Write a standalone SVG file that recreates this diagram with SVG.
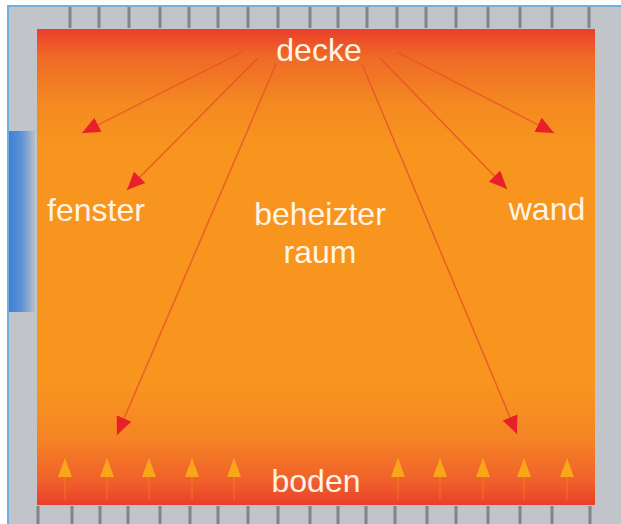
<svg xmlns="http://www.w3.org/2000/svg" width="621" height="524" viewBox="0 0 621 524">
<defs>
<linearGradient id="room" x1="0" y1="29" x2="0" y2="505" gradientUnits="userSpaceOnUse">
<stop offset="0" stop-color="#e93f2b"/>
<stop offset="0.06" stop-color="#ef6a26"/>
<stop offset="0.16" stop-color="#f48a21"/>
<stop offset="0.25" stop-color="#f7951e"/>
<stop offset="0.75" stop-color="#f7951e"/>
<stop offset="0.86" stop-color="#f58425"/>
<stop offset="0.95" stop-color="#f0602a"/>
<stop offset="1" stop-color="#ea3f2c"/>
</linearGradient>
<linearGradient id="win" x1="0" y1="0" x2="1" y2="0">
<stop offset="0" stop-color="#3f7fd4"/>
<stop offset="0.5" stop-color="#5f93d4"/>
<stop offset="1" stop-color="#b7bfc9"/>
</linearGradient>
<marker id="ah" markerUnits="userSpaceOnUse" markerWidth="20" markerHeight="16" viewBox="0 0 20 16" refX="18" refY="8" orient="auto">
<path d="M0,0 L18,8 L0,16 Z" fill="#e8202a"/>
</marker>
<marker id="up" markerUnits="userSpaceOnUse" markerWidth="20" markerHeight="14" viewBox="0 0 20 14" refX="19" refY="7" orient="auto">
<path d="M0,0 L19,7 L0,14 Z" fill="#f9a61b"/>
</marker>
</defs>
<style>
.tile{fill:#c1c4c8}
.div{stroke:#80858b;stroke-width:3}
.lbl{font-family:"Liberation Sans",Arial,sans-serif;font-size:32px;fill:#fff4e6;text-anchor:middle}
.ray{stroke:#e8502a;stroke-width:1.4;fill:none;stroke-opacity:0.85}
.rise{stroke:#f7a41e;stroke-width:1.2;stroke-opacity:0.35}
</style>
<rect x="0" y="0" width="621" height="524" fill="#ffffff"/>
<g id="frame">
<rect x="7" y="5" width="614" height="519" fill="#6fb0e2"/>
<rect x="9" y="7" width="612" height="517" class="tile"/>
<g id="top-dividers">
<line class="div" x1="70" y1="7" x2="70" y2="28"/>
<line class="div" x1="99" y1="7" x2="99" y2="28"/>
<line class="div" x1="129" y1="7" x2="129" y2="28"/>
<line class="div" x1="160" y1="7" x2="160" y2="28"/>
<line class="div" x1="189" y1="7" x2="189" y2="28"/>
<line class="div" x1="218" y1="7" x2="218" y2="28"/>
<line class="div" x1="248" y1="7" x2="248" y2="28"/>
<line class="div" x1="278" y1="7" x2="278" y2="28"/>
<line class="div" x1="310" y1="7" x2="310" y2="28"/>
<line class="div" x1="338" y1="7" x2="338" y2="28"/>
<line class="div" x1="367" y1="7" x2="367" y2="28"/>
<line class="div" x1="397" y1="7" x2="397" y2="28"/>
<line class="div" x1="426" y1="7" x2="426" y2="28"/>
<line class="div" x1="456" y1="7" x2="456" y2="28"/>
<line class="div" x1="488" y1="7" x2="488" y2="28"/>
<line class="div" x1="520" y1="7" x2="520" y2="28"/>
<line class="div" x1="552" y1="7" x2="552" y2="28"/>
<line class="div" x1="589" y1="7" x2="589" y2="28"/>
</g>
<g id="bottom-dividers">
<line class="div" x1="38" y1="506" x2="38" y2="524"/>
<line class="div" x1="72" y1="506" x2="72" y2="524"/>
<line class="div" x1="100" y1="506" x2="100" y2="524"/>
<line class="div" x1="128" y1="506" x2="128" y2="524"/>
<line class="div" x1="160" y1="506" x2="160" y2="524"/>
<line class="div" x1="190" y1="506" x2="190" y2="524"/>
<line class="div" x1="218" y1="506" x2="218" y2="524"/>
<line class="div" x1="248" y1="506" x2="248" y2="524"/>
<line class="div" x1="278" y1="506" x2="278" y2="524"/>
<line class="div" x1="310" y1="506" x2="310" y2="524"/>
<line class="div" x1="338" y1="506" x2="338" y2="524"/>
<line class="div" x1="366" y1="506" x2="366" y2="524"/>
<line class="div" x1="395" y1="506" x2="395" y2="524"/>
<line class="div" x1="427" y1="506" x2="427" y2="524"/>
<line class="div" x1="456" y1="506" x2="456" y2="524"/>
<line class="div" x1="488" y1="506" x2="488" y2="524"/>
<line class="div" x1="520" y1="506" x2="520" y2="524"/>
<line class="div" x1="552" y1="506" x2="552" y2="524"/>
<line class="div" x1="590" y1="506" x2="590" y2="524"/>
</g>
</g>
<g id="window"><rect x="9" y="131" width="26" height="181" fill="url(#win)"/></g>
<g id="room-fill"><rect x="37" y="29" width="558" height="476" fill="url(#room)"/></g>
<g id="connectors">
<line class="ray" x1="242" y1="52" x2="82" y2="133" marker-end="url(#ah)"/>
<line class="ray" x1="258" y1="58" x2="127" y2="190" marker-end="url(#ah)"/>
<line class="ray" x1="276" y1="64" x2="117" y2="435" marker-end="url(#ah)"/>
<line class="ray" x1="362" y1="64" x2="517" y2="434" marker-end="url(#ah)"/>
<line class="ray" x1="380" y1="58" x2="507" y2="189" marker-end="url(#ah)"/>
<line class="ray" x1="397" y1="52" x2="554" y2="133" marker-end="url(#ah)"/>
<g id="rising">
<line class="rise" x1="65" y1="500" x2="65" y2="458" marker-end="url(#up)"/>
<line class="rise" x1="107" y1="500" x2="107" y2="458" marker-end="url(#up)"/>
<line class="rise" x1="149" y1="500" x2="149" y2="458" marker-end="url(#up)"/>
<line class="rise" x1="192" y1="500" x2="192" y2="458" marker-end="url(#up)"/>
<line class="rise" x1="234" y1="500" x2="234" y2="458" marker-end="url(#up)"/>
<line class="rise" x1="398" y1="500" x2="398" y2="458" marker-end="url(#up)"/>
<line class="rise" x1="440" y1="500" x2="440" y2="458" marker-end="url(#up)"/>
<line class="rise" x1="483" y1="500" x2="483" y2="458" marker-end="url(#up)"/>
<line class="rise" x1="524" y1="500" x2="524" y2="458" marker-end="url(#up)"/>
<line class="rise" x1="567" y1="500" x2="567" y2="458" marker-end="url(#up)"/>
</g>
</g>
<g id="decke"><text class="lbl" x="319" y="61">decke</text></g>
<g id="fenster"><text class="lbl" x="96" y="221">fenster</text></g>
<g id="raum"><text class="lbl" x="320" y="225">beheizter</text><text class="lbl" x="320" y="263">raum</text></g>
<g id="wand"><text class="lbl" x="547" y="220">wand</text></g>
<g id="boden"><text class="lbl" x="316" y="492">boden</text></g>
</svg>
